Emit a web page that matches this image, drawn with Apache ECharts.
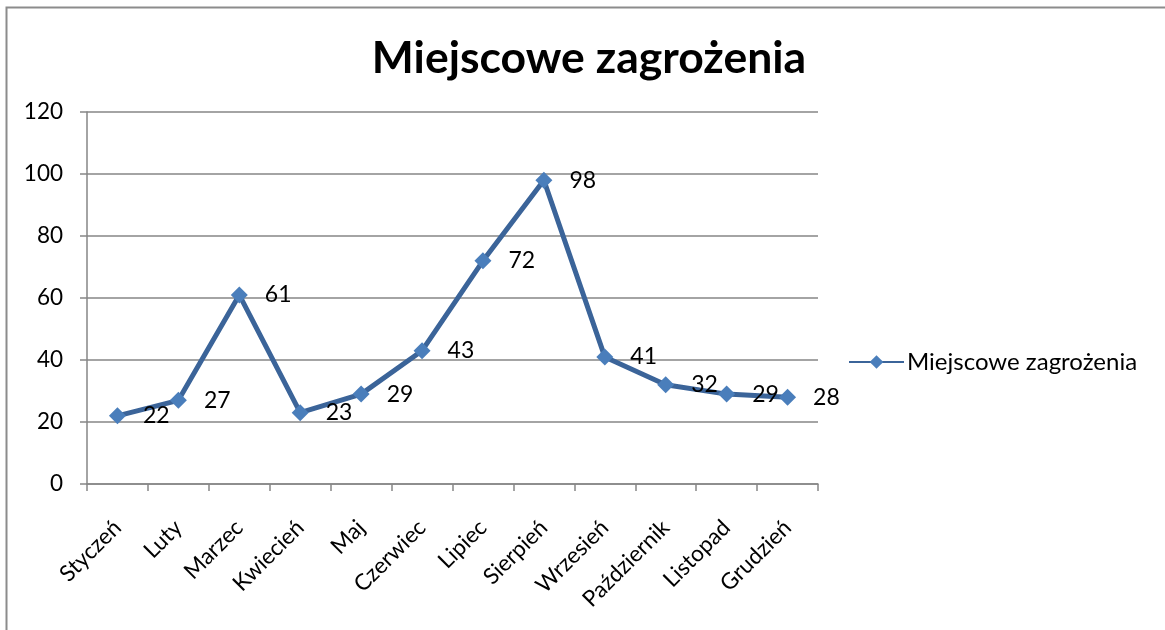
<!DOCTYPE html>
<html>
<head>
<meta charset="utf-8">
<script src="https://cdn.jsdelivr.net/npm/echarts@6/dist/echarts.min.js"></script>
<style>
  html, body { margin: 0; padding: 0; background: #fff; }
  #main { width: 1165px; height: 630px; }
</style>
</head>
<body>
<div id="main"></div>
<script>
  // dane z wykresu
  const months = ['Styczeń', 'Luty', 'Marzec', 'Kwiecień', 'Maj', 'Czerwiec',
    'Lipiec', 'Sierpień', 'Wrzesień', 'Październik', 'Listopad', 'Grudzień'];
  const threats = [22, 27, 61, 23, 29, 43, 72, 98, 41, 32, 29, 28];
  const seriesName = 'Miejscowe zagrożenia';

  const font = 'Lato';
  const axisGray = '#868686';

  const option = {
    backgroundColor: '#fff',
    animation: false,
    title: {
      text: seriesName,
      left: 584,
      top: 31,
      textAlign: 'center',
      textStyle: { fontFamily: font, fontSize: 44.5, fontWeight: 'bold', color: '#000' }
    },
    legend: {
      data: [seriesName],
      left: 848,
      top: 350,
      padding: 0,
      itemWidth: 55,
      itemHeight: 17,
      itemGap: 0,
      textStyle: { fontFamily: font, fontSize: 24, color: '#000', padding: [0, 0, 0, -2] }
    },
    grid: { left: 87, top: 112, width: 731, height: 372, containLabel: false },
    xAxis: {
      type: 'category',
      data: months,
      boundaryGap: true,
      axisLine: { lineStyle: { color: axisGray, width: 1.5 } },
      axisTick: { show: true, length: 7, lineStyle: { color: axisGray, width: 1.5 } },
      axisLabel: { rotate: 45, interval: 0, margin: 40, fontFamily: font, fontSize: 22.5, color: '#000' }
    },
    yAxis: {
      type: 'value',
      min: 0,
      max: 120,
      interval: 20,
      axisLine: { show: true, lineStyle: { color: axisGray, width: 1.5 } },
      axisTick: { show: true, length: 7, lineStyle: { color: axisGray, width: 1.5 } },
      axisLabel: { margin: 24, fontFamily: font, fontSize: 22.5, color: '#000' },
      splitLine: { lineStyle: { color: axisGray, width: 1.5 } }
    },
    series: [
      {
        name: seriesName,
        type: 'line',
        data: threats,
        symbol: 'diamond',
        symbolSize: 17,
        lineStyle: { color: '#3B6499', width: 5 },
        itemStyle: { color: '#4A7EBB', borderWidth: 0 },
        label: {
          show: true,
          position: 'right',
          distance: 17,
          fontFamily: font,
          fontSize: 23,
          color: '#000'
        }
      }
    ],
    graphic: [
      {
        type: 'rect',
        shape: { x: 6.5, y: 7.5, width: 1300, height: 800 },
        style: { fill: 'none', stroke: '#8c8c8c', lineWidth: 2 },
        silent: true
      }
    ]
  };

  const myChart = echarts.init(document.getElementById('main'));
  myChart.setOption(option);
</script>
</body>
</html>
